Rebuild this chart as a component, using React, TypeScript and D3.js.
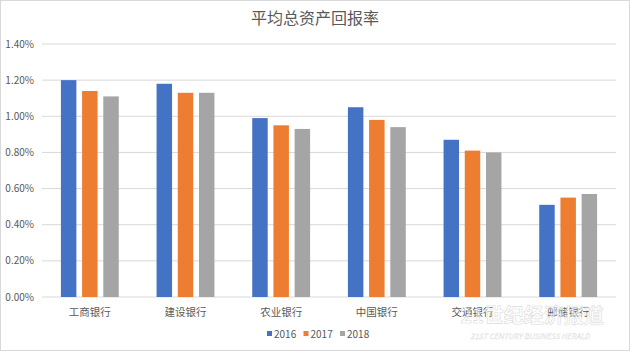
import React from 'react';
import * as d3 from 'd3';

const banks = ['工商银行', '建设银行', '农业银行', '中国银行', '交通银行', '邮储银行'];
const years = ['2016', '2017', '2018'];
const roa2016 = [1.20, 1.18, 0.99, 1.05, 0.87, 0.51];
const roa2017 = [1.14, 1.13, 0.95, 0.98, 0.81, 0.55];
const roa2018 = [1.11, 1.13, 0.93, 0.94, 0.80, 0.57];
const yTicks = [0, 0.2, 0.4, 0.6, 0.8, 1.0, 1.2, 1.4];
const colors = ['#4472C4', '#ED7D31', '#A5A5A5'];

const width = 630;
const height = 352;
const margin = { top: 44, right: 14, bottom: 55, left: 42 };
const font = '"Noto Sans CJK SC", "Noto Sans", sans-serif';

const App = () => {
  const series = [roa2016, roa2017, roa2018];

  const x0 = d3.scaleBand()
    .domain(banks)
    .range([margin.left, width - margin.right]);

  // bars take ~60% of each category slot
  const groupW = x0.step() * 0.605;
  const x1 = d3.scaleBand()
    .domain(years)
    .range([0, groupW])
    .paddingInner(0.27);

  const y = d3.scaleLinear()
    .domain([0, 1.4])
    .range([height - margin.bottom, margin.top]);

  const fmt = (v: number) => v.toFixed(2) + '%';

  const legendX = d3.scalePoint().domain(years).range([267, 340]);

  return (
    <svg width={width} height={height} viewBox={`0 0 ${width} ${height}`}
      style={{ position: 'absolute', left: 0, top: 0, background: '#fff' }}>
      <rect x={0.5} y={0.5} width={width - 1} height={height - 2} fill="#fff" stroke="#D9D9D9" />
      <text x={width / 2} y={24} textAnchor="middle" fontFamily={font} fontSize={16} fill="#595959">
        平均总资产回报率
      </text>

      <g className="grid">
        {yTicks.map(t => (
          <g key={t}>
            <line x1={margin.left} x2={width - margin.right} y1={y(t)} y2={y(t)}
              stroke="#D9D9D9" strokeWidth={1} />
            <text x={34} y={y(t)} dy="0.35em" textAnchor="end" fontFamily={font}
              fontSize={10} fill="#595959">{fmt(t)}</text>
          </g>
        ))}
      </g>

      <g className="bars">
        {banks.map((b, i) => (
          <g key={b} transform={`translate(${x0(b)! + (x0.bandwidth() - groupW) / 2},0)`}>
            {years.map((yr, j) => (
              <rect key={yr} x={x1(yr)} width={x1.bandwidth()}
                y={y(series[j][i])} height={y(0) - y(series[j][i])} fill={colors[j]} />
            ))}
          </g>
        ))}
      </g>

      <g className="x-axis">
        {banks.map(b => (
          <text key={b} x={x0(b)! + x0.bandwidth() / 2} y={316} textAnchor="middle"
            fontFamily={font} fontSize={10.5} fill="#595959">{b}</text>
        ))}
      </g>

      <g className="legend">
        {years.map((yr, j) => (
          <g key={yr} transform={`translate(${legendX(yr)},334)`}>
            <rect x={0} y={-3} width={5} height={5} fill={colors[j]} />
            <text x={7} y={0} dy="0.35em" fontFamily={font} fontSize={10} fill="#595959">{yr}</text>
          </g>
        ))}
      </g>

      {/* watermark sits over the last labels, as in the source image */}
      <g className="watermark" opacity={0.6}>
        <text x={532} y={323} textAnchor="middle" fontFamily={font} fontSize={20} fontWeight="bold"
          fill="#fff" stroke="#C4C4C4" strokeWidth={0.6}>21世纪经济报道</text>
        <text x={530} y={339} textAnchor="middle" fontFamily={font} fontSize={7.5} fontStyle="italic"
          fill="#fff" stroke="#CCCCCC" strokeWidth={0.4}>21ST CENTURY BUSINESS HERALD</text>
      </g>
    </svg>
  );
};

export default App;
